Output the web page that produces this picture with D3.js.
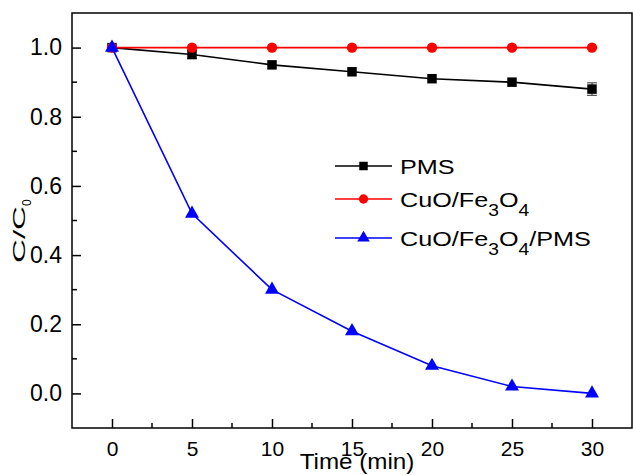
<!DOCTYPE html>
<html>
<head>
<meta charset="utf-8">
<script src="https://cdn.jsdelivr.net/npm/d3@7"></script>
<style>
  html, body { margin: 0; padding: 0; background: #fff; }
  svg { display: block; font-family: "Liberation Sans", Arial, sans-serif; }
</style>
</head>
<body>
<svg id="chart" width="633" height="475"></svg>
<script>
// Reaction time (min)
const times = [0, 5, 10, 15, 20, 25, 30];
// Normalised concentration C/C0 for each system
const pmsValues = [1.0, 0.98, 0.95, 0.93, 0.91, 0.90, 0.88];
const pmsErrors = [0, 0.012, 0, 0, 0, 0, 0.018];
const cuoFeValues = [1.0, 1.0, 1.0, 1.0, 1.0, 1.0, 1.0];
const cuoFePmsValues = [1.0, 0.52, 0.30, 0.18, 0.08, 0.02, 0.0];
const xTicks = [0, 5, 10, 15, 20, 25, 30];
const yTicks = [0.0, 0.2, 0.4, 0.6, 0.8, 1.0];

const svg = d3.select("#chart");
const plotLeft = 72, plotRight = 632, plotTop = 13, plotBottom = 428;

const x = d3.scaleLinear().domain([-2.5, 32.5]).range([plotLeft, plotRight]);
const y = d3.scaleLinear().domain([-0.1, 1.1]).range([plotBottom, plotTop]);

// Frame
svg.append("rect")
  .attr("x", plotLeft).attr("y", plotTop)
  .attr("width", plotRight - plotLeft).attr("height", plotBottom - plotTop)
  .attr("fill", "none").attr("stroke", "#000").attr("stroke-width", 1.5);

// Bottom axis, ticks pointing inward
const xAxis = svg.append("g").attr("transform", `translate(0,${plotBottom})`)
  .call(d3.axisBottom(x).tickValues(xTicks).tickSize(-9).tickPadding(13).tickFormat(d3.format("d")));
xAxis.select(".domain").remove();
xAxis.selectAll(".tick line").attr("stroke-width", 1.5);
xAxis.selectAll("text").attr("font-size", 21).attr("fill", "#000");
const xMinor = [2.5, 7.5, 12.5, 17.5, 22.5, 27.5];
svg.append("g").selectAll("line").data(xMinor).join("line")
  .attr("x1", d => x(d)).attr("x2", d => x(d))
  .attr("y1", plotBottom).attr("y2", plotBottom - 5)
  .attr("stroke", "#000").attr("stroke-width", 1.5);

// Left axis, ticks pointing inward
const yAxis = svg.append("g").attr("transform", `translate(${plotLeft},0)`)
  .call(d3.axisLeft(y).tickValues(yTicks).tickSize(-9).tickPadding(10).tickFormat(d3.format(".1f")));
yAxis.select(".domain").remove();
yAxis.selectAll(".tick line").attr("stroke-width", 1.5);
yAxis.selectAll("text").attr("font-size", 23).attr("fill", "#000");
const yMinor = [0.1, 0.3, 0.5, 0.7, 0.9];
svg.append("g").selectAll("line").data(yMinor).join("line")
  .attr("x1", plotLeft).attr("x2", plotLeft + 5)
  .attr("y1", d => y(d)).attr("y2", d => y(d))
  .attr("stroke", "#000").attr("stroke-width", 1.5);

// Axis titles
svg.append("text")
  .attr("transform", "translate(357,469) scale(1.1,1)")
  .attr("text-anchor", "middle").attr("font-size", 22).attr("fill", "#000")
  .text("Time (min)");

const yTitle = svg.append("text")
  .attr("transform", "translate(25,263) rotate(-90)")
  .attr("font-size", 17).attr("fill", "#000");
yTitle.append("tspan").attr("textLength", 57).attr("lengthAdjust", "spacingAndGlyphs").text("C/C");
yTitle.append("tspan").attr("font-size", 12).attr("dy", 6).text("0");

const series = [
  { name: "PMS", values: pmsValues, color: "#000000", shape: d3.symbolSquare, size: 90 },
  { name: "CuO/Fe3O4", values: cuoFeValues, color: "#ff0000", shape: d3.symbolCircle, size: 85 },
  { name: "CuO/Fe3O4/PMS", values: cuoFePmsValues, color: "#0000ff", shape: d3.symbolTriangle, size: 85 }
];

const line = d3.line().x(d => x(d[0])).y(d => y(d[1]));

// Error bars on the PMS series
const errG = svg.append("g").attr("stroke", "#333").attr("stroke-width", 1);
times.forEach((t, i) => {
  const e = pmsErrors[i];
  if (!e) return;
  const cx = x(t), y1 = y(pmsValues[i] - e), y2 = y(pmsValues[i] + e);
  errG.append("line").attr("x1", cx).attr("x2", cx).attr("y1", y1).attr("y2", y2);
  errG.append("line").attr("x1", cx - 5).attr("x2", cx + 5).attr("y1", y1).attr("y2", y1);
  errG.append("line").attr("x1", cx - 5).attr("x2", cx + 5).attr("y1", y2).attr("y2", y2);
});

series.forEach(s => {
  const pts = times.map((t, i) => [t, s.values[i]]);
  svg.append("path").datum(pts)
    .attr("d", line).attr("fill", "none")
    .attr("stroke", s.color).attr("stroke-width", 1.6);
  svg.append("g").selectAll("path").data(pts).join("path")
    .attr("transform", d => `translate(${x(d[0])},${y(d[1])})`)
    .attr("d", d3.symbol().type(s.shape).size(s.size))
    .attr("fill", s.color);
});

// Legend
const legendRows = [
  { y: 166, label: ["PMS"] },
  { y: 199, label: ["CuO/Fe", "3", "O", "4"] },
  { y: 238, label: ["CuO/Fe", "3", "O", "4", "/PMS"] }
];
legendRows.forEach((row, i) => {
  const s = series[i];
  const g = svg.append("g");
  g.append("line").attr("x1", 335).attr("x2", 392).attr("y1", row.y).attr("y2", row.y)
    .attr("stroke", s.color).attr("stroke-width", 1.6);
  g.append("path").attr("transform", `translate(${363.5},${row.y})`)
    .attr("d", d3.symbol().type(s.shape).size(s.size * 0.8)).attr("fill", s.color);
  const t = g.append("text")
    .attr("transform", `translate(400,${row.y + 7.5}) scale(1.2,1)`)
    .attr("font-size", 21).attr("fill", "#000");
  row.label.forEach((part, j) => {
    const isSub = part === "3" || part === "4";
    const prevSub = j > 0 && (row.label[j - 1] === "3" || row.label[j - 1] === "4");
    const ts = t.append("tspan").text(part);
    if (isSub) ts.attr("font-size", 16).attr("dy", 9);
    else if (prevSub) ts.attr("dy", -9);
  });
});
</script>
</body>
</html>
